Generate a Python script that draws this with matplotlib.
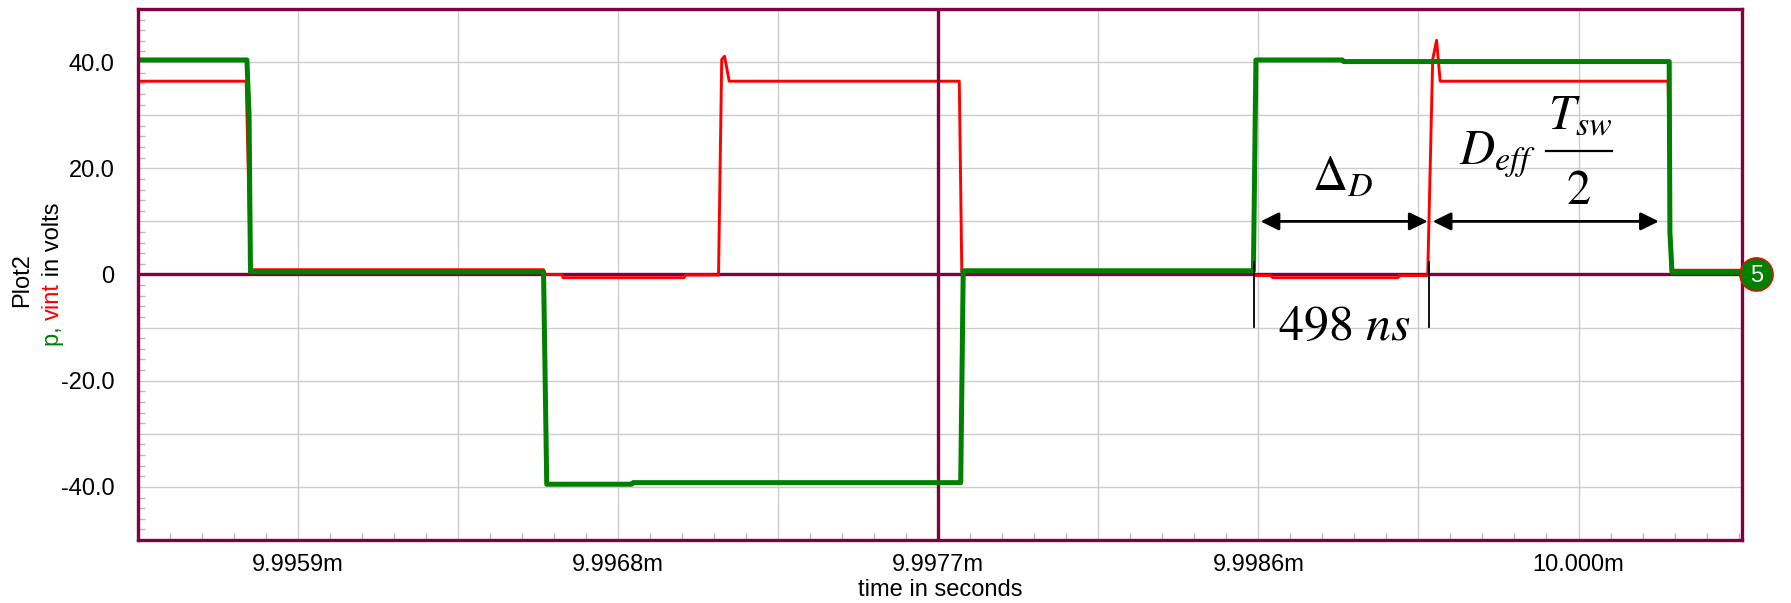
import matplotlib
matplotlib.use("Agg")
import matplotlib.pyplot as plt
import numpy as np
from matplotlib.ticker import FixedLocator, MultipleLocator

plt.rcParams["font.family"] = ["Liberation Sans", "DejaVu Sans"]
plt.rcParams["mathtext.fontset"] = "stix"

# time axis in microseconds (9995.9 us == 9.9959m s)
T_P = [9995.45, 9995.756, 9995.762, 9995.766, 9996.590, 9996.599, 9996.838, 9996.842,
       9997.763, 9997.770, 9998.586, 9998.593, 9998.836, 9998.840, 9999.755, 9999.757,
       9999.763, 9999.96]
P   = [40.4, 40.4, 30.0, 0.5, 0.5, -39.5, -39.5, -39.2,
       -39.2, 0.7, 0.7, 40.4, 40.4, 40.1, 40.1, 8.0,
       0.4, 0.4]

T_V = [9995.45, 9995.754, 9995.766, 9996.590, 9996.595, 9996.641, 9996.645, 9996.985,
       9996.989, 9997.082, 9997.091, 9997.099, 9997.112, 9997.759, 9997.766, 9998.586,
       9998.590, 9998.636, 9998.640, 9998.992, 9998.996, 9999.076, 9999.090, 9999.101,
       9999.111, 9999.752, 9999.760, 9999.96]
V   = [36.4, 36.4, 0.9, 0.9, 0.0, 0.0, -0.6, -0.6,
       -0.1, -0.1, 40.5, 41.1, 36.4, 36.4, 0.5, 0.5,
       -0.2, -0.2, -0.6, -0.6, -0.2, -0.2, 40.5, 44.1,
       36.4, 36.4, 0.8, 0.8]

X_GRID   = [9995.9, 9996.35, 9996.8, 9997.25, 9997.7, 9998.15, 9998.6, 9999.05, 9999.5]
X_LABELS = ["9.9959m", "", "9.9968m", "", "9.9977m", "", "9.9986m", "", "10.000m"]
Y_GRID   = [-40, -30, -20, -10, 0, 10, 20, 30, 40]
Y_LABELS = ["-40.0", "", "-20.0", "", "0", "", "20.0", "", "40.0"]

CURSOR_T  = 9997.7
MARKER_T  = 10000.0
EDGE_1    = 9998.587   # green rising edge
EDGE_2    = 9999.080   # red rising edge
EDGE_3    = 9999.726   # end of D_eff arrow

MAROON = "#800040"
GREEN  = "#008000"
RED    = "#ff0000"
FS     = 17

fig = plt.figure(figsize=(17.91, 6.03), dpi=100)
ax = fig.add_axes([0.0771, 0.1045, 0.8956, 0.8806])
ax.set_xlim(9995.45, 9999.96)
ax.set_ylim(-50, 50)

for s in ax.spines.values():
    s.set_color(MAROON)
    s.set_linewidth(2.4)
    s.set_zorder(6)

ax.xaxis.set_major_locator(FixedLocator(X_GRID))
ax.set_xticklabels(X_LABELS)
ax.yaxis.set_major_locator(FixedLocator(Y_GRID))
ax.set_yticklabels(Y_LABELS)
ax.xaxis.set_minor_locator(FixedLocator(np.arange(9995.45, 9999.96, 0.09)))
ax.yaxis.set_minor_locator(MultipleLocator(2))
ax.tick_params(which="major", length=0, labelsize=FS)
ax.tick_params(axis="x", which="major", pad=10)
ax.tick_params(axis="y", which="major", pad=17)
ax.tick_params(which="minor", direction="in", length=5, width=1, color="#b8b8b8")
ax.grid(True, which="major", color="#cccccc", linewidth=1.0)
ax.set_axisbelow(True)

ax.axhline(0, color=MAROON, linewidth=2.4, zorder=2)
ax.plot(T_V, V, color=RED, linewidth=2.1, zorder=3)
ax.axvline(CURSOR_T, color=MAROON, linewidth=2.4, zorder=4)
ax.plot(T_P, P, color=GREEN, linewidth=3.6, zorder=5)

# probe marker at right edge
ax.plot([MARKER_T], [0], "o", ms=24, mfc=GREEN, mec=RED, mew=1.0, clip_on=False, zorder=8)
ax.text(MARKER_T, -0.3, "5", color="white", ha="center", va="center", fontsize=FS,
        clip_on=False, zorder=9)

# annotations
arrow = dict(arrowstyle="<|-|>,head_length=0.55,head_width=0.27", color="black",
             lw=2.0, mutation_scale=20, shrinkA=0, shrinkB=0)
ax.annotate("", xy=(EDGE_2 - 0.004, 10), xytext=(EDGE_1 + 0.019, 10), arrowprops=arrow, zorder=7)
ax.annotate("", xy=(EDGE_3, 10), xytext=(EDGE_2 + 0.010, 10), arrowprops=arrow, zorder=7)
for e in (EDGE_1, EDGE_2):
    ax.plot([e, e], [2.4, -9.8], color="black", linewidth=1.3, zorder=7)

ax.text(9998.751, 15.8, r"$\Delta_{D}$", fontsize=35, ha="left", va="baseline", zorder=7)
ax.text(9998.655, -12.3, r"$498\ ns$", fontsize=36, ha="left", va="baseline", zorder=7)
ax.text(9999.164, 20.8, r"$D_{eff}$", fontsize=35, ha="left", va="baseline", zorder=7)
ax.text(9999.413, 27.4, r"$T_{sw}$", fontsize=35, ha="left", va="baseline", zorder=7)
ax.plot([9999.408, 9999.593], [23.2, 23.2], color="black", linewidth=1.6, zorder=7)
ax.text(9999.50, 13.3, r"$2$", fontsize=35, ha="center", va="baseline", zorder=7)

ax.set_xlabel("time in seconds", fontsize=FS, labelpad=2)

# y axis labels: black "Plot2" and a coloured signal list
fig.text(22.5 / 1791, 1 - 280 / 603, "Plot2", rotation=90, ha="center", va="center", fontsize=FS)
pieces = [("p, ", GREEN), ("vint", RED), (" in volts", "black")]
fig.canvas.draw()
renderer = fig.canvas.get_renderer()
texts = [fig.text(0, 0, s, rotation=90, color=c, fontsize=FS, ha="center", va="bottom")
         for s, c in pieces]
lengths = [t.get_window_extent(renderer).height for t in texts]
y0 = fig.bbox.height * (1 - 274 / 603) - sum(lengths) / 2
x0 = fig.bbox.width * (53 / 1791)
for t, h in zip(texts, lengths):
    t.set_position(fig.transFigure.inverted().transform((x0, y0)))
    y0 += h

fig.savefig("out.png", dpi=100)
